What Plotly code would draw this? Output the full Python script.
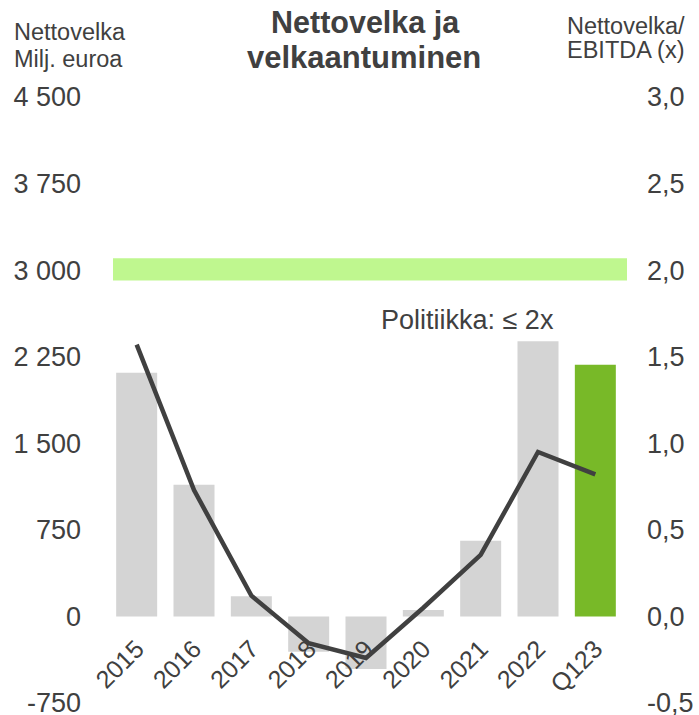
import plotly.graph_objects as go

# ---- data ----
categories = ["2015", "2016", "2017", "2018", "2019", "2020", "2021", "2022", "Q123"]
net_debt = [2110, 1140, 175, -305, -455, 55, 655, 2385, 2180]          # Milj. euroa
leverage = [1.57, 0.73, 0.12, -0.155, -0.24, 0.05, 0.355, 0.95, 0.82]  # Nettovelka/EBITDA (x)
policy_limit = 2.0
left_ticks = [-750, 0, 750, 1500, 2250, 3000, 3750, 4500]
right_ticks = [-0.5, 0.0, 0.5, 1.0, 1.5, 2.0, 2.5, 3.0]
left_tick_text = [f"{v:,}".replace(",", " ") for v in left_ticks]
right_tick_text = [f"{v:.1f}".replace(".", ",") for v in right_ticks]

# ---- layout geometry ----
W, H = 699, 715
ML, MR, MT, MB = 108, 75, 97, 12
PW, PH = W - ML - MR, H - MT - MB


def px(x):
    return (x - ML) / PW


def py(y):
    return 1 - (y - MT) / PH


TXT = "#404040"
FONT = "Liberation Sans, Arial, sans-serif"

bar_colors = ["#d4d4d4"] * (len(categories) - 1) + ["#78b928"]

fig = go.Figure()
fig.add_trace(go.Bar(
    x=categories, y=net_debt, marker=dict(color=bar_colors, line=dict(width=0)),
    yaxis="y", showlegend=False, hoverinfo="x+y",
))
fig.add_trace(go.Scatter(
    x=categories, y=leverage, mode="lines", yaxis="y2",
    line=dict(color="#404040", width=4.5), showlegend=False,
))

lo, hi = left_ticks[0], left_ticks[-1]
fig.update_layout(
    width=W, height=H,
    margin=dict(l=ML, r=MR, t=MT, b=MB, pad=0, autoexpand=False),
    paper_bgcolor="white", plot_bgcolor="white",
    separators=", ",
    bargap=0.285,
    font=dict(family=FONT, color=TXT),
    xaxis=dict(
        type="category", anchor="free", position=(0 - lo) / (hi - lo),
        showline=False, showgrid=False, zeroline=False, ticks="",
        tickangle=-45, tickfont=dict(size=25, color=TXT), ticklabelstandoff=12,
        ticklabeloverflow="allow",
    ),
    yaxis=dict(
        range=[lo, hi], tickvals=left_ticks, ticktext=left_tick_text,
        showgrid=False, zeroline=False, showline=False, ticks="",
        tickfont=dict(size=27, color=TXT), ticklabelstandoff=26,
        ticklabeloverflow="allow",
    ),
    yaxis2=dict(
        range=[right_ticks[0], right_ticks[-1]], tickvals=right_ticks,
        ticktext=right_tick_text,
        overlaying="y", side="right",
        showgrid=False, zeroline=False, showline=False, ticks="",
        tickfont=dict(size=27, color=TXT), ticklabelstandoff=22,
        ticklabeloverflow="allow",
    ),
)

# policy band
fig.add_shape(
    type="rect", xref="paper", yref="y2",
    x0=px(113), x1=px(627), y0=policy_limit - 0.06, y1=policy_limit + 0.068,
    fillcolor="#bff78f", line=dict(width=0), layer="below",
)


def label(text, x, y, size, anchor, bold=False):
    fig.add_annotation(
        text=f"<b>{text}</b>" if bold else text, xref="paper", yref="paper",
        x=px(x), y=py(y), xanchor=anchor, yanchor="middle", showarrow=False,
        font=dict(size=size, color=TXT, family=FONT),
    )


label("Politiikka: \u2264 2x", 379, 320, 27, "left")
label("Nettovelka ja", 365, 23, 30.5, "center", bold=True)
label("velkaantuminen", 364, 57, 31, "center", bold=True)
label("Nettovelka", 12, 32, 23.5, "left")
label("Milj. euroa", 12, 58.5, 23.5, "left")
label("Nettovelka/", 687, 26, 23.5, "right")
label("EBITDA (x)", 687, 50, 23.5, "right")

fig.write_html(
    "out.html",
    config={"displayModeBar": False},
    post_script="document.body.style.margin='0';document.body.style.overflow='hidden';",
)
